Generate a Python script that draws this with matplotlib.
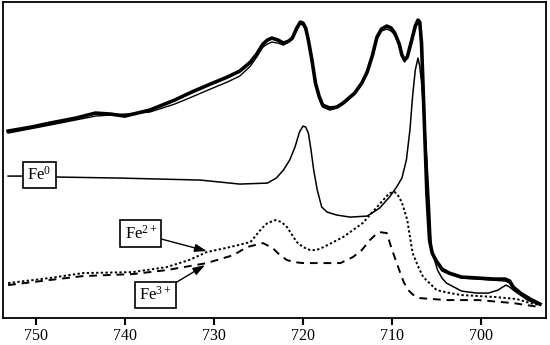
import matplotlib
matplotlib.use('Agg')
import matplotlib.pyplot as plt

plt.rcParams['font.family'] = ['Liberation Serif', 'DejaVu Serif']
plt.rcParams['mathtext.fontset'] = 'custom'
plt.rcParams['mathtext.rm'] = 'Liberation Serif'
plt.rcParams['mathtext.it'] = 'Liberation Serif'

# binding energy (eV) / intensity (arb. units)
meas_e = [753.1, 750.5, 748.4, 745.5, 743.3, 741.6, 740.0, 737.2, 734.4, 732.5,
          730.4, 728.5, 727.1, 725.9, 725.2, 724.5, 724.0, 723.5, 722.8, 722.2,
          721.6, 721.2, 720.7, 720.3, 720.0, 719.7, 719.4, 719.0, 718.6, 718.2,
          717.8, 717.0, 716.2, 715.5, 714.2, 713.4, 712.8, 712.2, 711.7, 711.2,
          710.6, 710.1, 709.7, 709.2, 708.9, 708.6, 708.3, 707.8, 707.4, 707.1,
          706.9, 706.7, 706.5, 706.1, 705.8, 705.5, 705.1, 704.4, 703.6, 702.2,
          700.3, 698.5, 697.3, 696.8, 696.4, 695.6, 694.5, 693.4]
meas_i = [187, 191, 195, 200, 205, 204, 202, 208, 218, 226,
          234, 241, 247, 256, 264, 274, 278, 280, 278, 275,
          277, 280, 290, 296, 295, 290, 278, 258, 235, 222,
          213, 210, 211, 215, 225, 235, 246, 263, 281, 289,
          292, 290, 285, 274, 263, 258, 261, 278, 292, 298,
          296, 275, 225, 125, 78, 65, 58, 49, 45, 41,
          40, 39, 39, 37, 31, 25, 19, 14]

fit_e = [753.1, 748.4, 743.3, 740.0, 737.2, 734.4, 732.5, 730.4, 728.5, 727.1,
         725.9, 725.2, 724.5, 724.0, 723.5, 722.8, 722.2, 721.6, 721.2, 720.7,
         720.3, 720.0, 719.7, 719.4, 719.0, 718.6, 718.2, 717.8, 717.0, 716.2,
         715.5, 714.2, 712.8, 711.7, 711.2, 710.6, 710.1, 709.7, 709.2, 708.6,
         707.8, 707.4, 707.1, 706.9, 706.7, 706.5, 706.1, 705.8, 705.3, 704.4,
         703.6, 702.2, 700.3, 697.3, 696.8, 696.4, 695.6, 694.5, 693.4]
fit_i = [185, 193, 202, 204, 206, 214, 221, 229, 236, 242,
         252, 261, 271, 274, 276, 275, 273, 276, 279, 288,
         294, 293, 288, 276, 256, 233, 220, 211, 208, 210,
         214, 224, 245, 279, 287, 289, 287, 283, 272, 256,
         276, 290, 296, 294, 273, 222, 122, 75, 60, 47,
         44, 40, 39, 37, 35, 29, 24, 18, 13]

fe0_e = [753.1, 751.4, 747.3, 740.5, 731.5, 727.1, 724.0, 723.0, 722.2, 721.5,
         720.9, 720.4, 720.0, 719.7, 719.4, 719.1, 718.8, 718.4, 717.9, 717.3,
         716.2, 714.7, 712.8, 711.4, 710.3, 709.5, 708.9, 708.4, 708.0, 707.7,
         707.4, 707.1, 706.9, 706.7, 706.4, 706.1, 705.8, 705.6, 705.2, 704.9,
         704.4, 703.9, 702.2, 700.5, 699.2, 698.1, 697.6, 697.2, 696.8, 696.4,
         695.6, 694.8, 693.4]
fe0_i = [142, 142, 141, 140, 138, 134, 135, 140, 148, 158,
         171, 186, 192, 191, 185, 168, 148, 128, 111, 106,
         103, 101, 102, 110, 121, 131, 140, 158, 188, 222,
         248, 260, 252, 236, 200, 158, 110, 71, 57, 48,
         40, 35, 27, 25, 25, 28, 31, 33, 31, 28,
         23, 18, 13]

fe2_e = [753.1, 748.5, 744.7, 739.1, 735.3, 732.8, 730.8, 728.2, 725.9, 724.6,
         724.0, 723.1, 722.4, 721.8, 720.7, 720.0, 719.2, 718.5, 717.7, 715.5,
         713.3, 711.7, 710.9, 710.3, 709.7, 709.2, 708.8, 708.3, 707.7, 707.0,
         706.5, 705.0, 703.5, 702.2, 698.3, 696.0, 694.5, 693.4]
fe2_i = [35, 40, 45, 46, 51, 58, 66, 71, 76, 90,
         95, 98, 96, 91, 76, 71, 68, 68, 71, 81,
         95, 111, 119, 125, 126, 121, 113, 98, 65, 50,
         41, 28, 25, 23, 21, 19, 15, 13]

fe3_e = [753.1, 748.5, 744.7, 739.1, 735.3, 730.8, 727.8, 726.3, 725.4, 724.5,
         723.4, 722.6, 721.8, 721.0, 720.0, 717.7, 715.8, 714.4, 713.4, 712.5,
         711.9, 711.4, 710.6, 710.0, 709.6, 709.2, 708.7, 708.2, 707.6, 706.9,
         703.9, 700.3, 696.4, 693.4]
fe3_i = [33, 38, 42, 44, 48, 55, 63, 71, 73, 75,
         70, 63, 58, 56, 55, 55, 55, 61, 68, 78,
         83, 86, 85, 68, 58, 48, 36, 28, 23, 20,
         18, 18, 15, 11]

ticks = [750, 740, 730, 720, 710, 700]

fig = plt.figure(figsize=(5.5, 3.45), dpi=100)
ax = fig.add_axes([0.0055, 0.078, 0.9872, 0.916])

ax.plot(meas_e, meas_i, color='black', lw=2.6, solid_joinstyle='round')
ax.plot(fit_e, fit_i, color='black', lw=1.0)
ax.plot(fe0_e, fe0_i, color='black', lw=1.1)
ax.plot(fe2_e, fe2_i, color='black', lw=1.4, linestyle=(0, (1.2, 1.2)))
ax.plot(fe3_e, fe3_i, color='black', lw=1.4, linestyle=(0, (4, 3)))

ax.set_xlim(753.67, 692.73)
ax.set_ylim(0, 316)
ax.set_xticks(ticks)
ax.set_yticks([])
ax.tick_params(axis='x', direction='out', length=5, width=1.5, pad=2,
               labelsize=11.5, colors='black')
for s in ax.spines.values():
    s.set_linewidth(1.3)

box = dict(boxstyle='square,pad=0.25', fc='white', ec='black', lw=1.2)
ax.text(749.6, 143, 'Fe$^{0}$', fontsize=12, ha='center', va='center',
        bbox=box, zorder=5)
arrow = dict(arrowstyle='-|>,head_length=0.6,head_width=0.2', color='black',
             lw=1.0, shrinkA=0, shrinkB=0)
ax.annotate('Fe$^{2+}$', xy=(730.8, 67), xytext=(738.2, 84.5), fontsize=12,
            ha='center', va='center', bbox=box, arrowprops=arrow, zorder=5)
ax.annotate('Fe$^{3+}$', xy=(731.0, 53), xytext=(736.6, 23), fontsize=12,
            ha='center', va='center', bbox=box, arrowprops=arrow, zorder=5)

fig.savefig('out.png', dpi=100)
